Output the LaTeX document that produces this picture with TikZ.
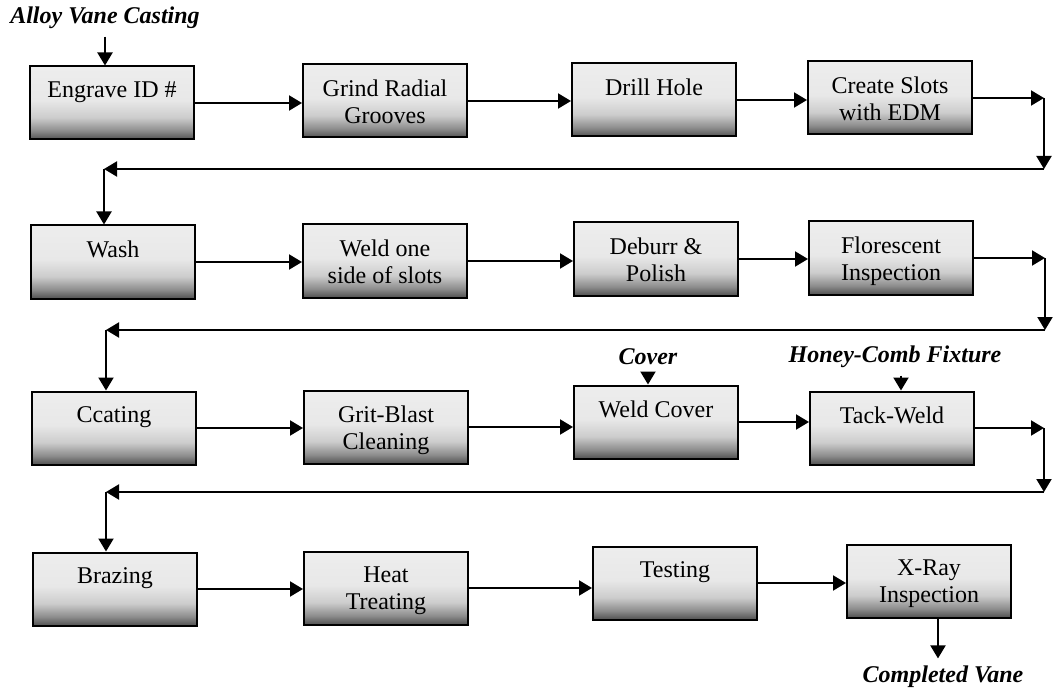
\documentclass[tikz,border=0pt]{standalone}
\usepackage{fontspec}
\setmainfont{Liberation Serif}
\usetikzlibrary{arrows.meta}

% dark at the bottom, pale at the top
\pgfdeclareverticalshading{castfade}{100bp}{color(0bp)=(black!68); color(25bp)=(black!68); color(31bp)=(black!45); color(40bp)=(black!20); color(52bp)=(black!9); color(75bp)=(black!7); color(100bp)=(black!7)}

\tikzset{
  stage/.style={draw, shade, shading=castfade, minimum width=82pt, minimum height=36.5pt, inner sep=0pt},
  stagetext/.style={anchor=north, inner sep=0pt, yshift=-7.5pt, align=center, font=\fontsize{12}{13.5}\selectfont},
  feed/.style={font=\fontsize{12}{14}\selectfont\bfseries\itshape},
}

\begin{document}
\begin{tikzpicture}[x=0.5pt, y=-0.5pt, line width=1pt, >={Triangle[length=6.5pt,width=7.5pt]}]
	\useasboundingbox (0,0) rectangle (1056,690);

	% row 1
	\node[stage] (engr) at (112,103) {};
	\node[stage] (grnd) at (385,101) {};
	\node[stage] (drll) at (654,100) {};
	\node[stage] (slot) at (890,98) {};
	\node[stagetext] (engr-t) at (engr.north) {Engrave ID \#};
	\node[stagetext] (grnd-t) at (grnd.north) {Grind Radial\\Grooves};
	\node[stagetext] (drll-t) at (drll.north) {Drill Hole};
	\node[stagetext] (slot-t) at (slot.north) {Create Slots\\with EDM};

	% row 2
	\node[stage] (wash) at (113,262) {};
	\node[stage] (weld) at (385,261) {};
	\node[stage] (debr) at (656,259) {};
	\node[stage] (flor) at (891,258) {};
	\node[stagetext] (wash-t) at (wash.north) {Wash};
	\node[stagetext] (weld-t) at (weld.north) {Weld one\\side of slots};
	\node[stagetext] (debr-t) at (debr.north) {Deburr \&\\Polish};
	\node[stagetext] (flor-t) at (flor.north) {Florescent\\Inspection};

	% row 3
	\node[stage] (coat) at (114,428) {};
	\node[stage] (grit) at (386,427) {};
	\node[stage] (wcov) at (656,422) {};
	\node[stage] (tack) at (892,428) {};
	\node[stagetext] (coat-t) at (coat.north) {Ccating};
	\node[stagetext] (grit-t) at (grit.north) {Grit-Blast\\Cleaning};
	\node[stagetext] (wcov-t) at (wcov.north) {Weld Cover};
	\node[stagetext] (tack-t) at (tack.north) {Tack-Weld};

	% row 4
	\node[stage] (braz) at (115,589) {};
	\node[stage] (heat) at (386,588) {};
	\node[stage] (test) at (675,583) {};
	\node[stage] (xray) at (929,581) {};
	\node[stagetext] (braz-t) at (braz.north) {Brazing};
	\node[stagetext] (heat-t) at (heat.north) {Heat\\Treating};
	\node[stagetext] (test-t) at (test.north) {Testing};
	\node[stagetext] (xray-t) at (xray.north) {X-Ray\\Inspection};

	% feeds in and out
	\node[feed] (alloy) at (105,18) {Alloy Vane Casting};
	\node[feed] (cover) at (648,357) {Cover};
	\node[feed] (hcomb) at (895,357) {Honey-Comb Fixture};
	\node[feed] (done) at (943,677) {Completed Vane};
	\draw [->] (alloy.south) -- (alloy.south |- engr.north);
	\draw [->] (cover.south) -- (cover.south |- wcov.north);
	\draw [->] ([xshift=3pt]hcomb.south) -- ([xshift=3pt]hcomb.south |- tack.north);
	\draw [->] ([xshift=4.5pt]xray.south) -- ([xshift=4.5pt]xray.south |- done.north);

	% turn-back corners
	\coordinate (rb1) at (1044,169);
	\coordinate (lb1) at (104,169);
	\coordinate (rb2) at (1045,330);
	\coordinate (lb2) at (106,330);
	\coordinate (rb3) at (1044,492);
	\coordinate (lb3) at (106,492);

	% straight runs
	\draw [->] (engr.east) -- (engr.east -| grnd.west);
	\draw [->] (grnd.east) -- (grnd.east -| drll.west);
	\draw [->] (drll.east) -- (drll.east -| slot.west);
	\draw [->] (wash.east) -- (wash.east -| weld.west);
	\draw [->] (weld.east) -- (weld.east -| debr.west);
	\draw [->] (debr.east) -- (debr.east -| flor.west);
	\draw [->] (coat.east) -- (coat.east -| grit.west);
	\draw [->] (grit.east) -- (grit.east -| wcov.west);
	\draw [->] (wcov.east) -- (wcov.east -| tack.west);
	\draw [->] (braz.east) -- (braz.east -| heat.west);
	\draw [->] (heat.east) -- (heat.east -| test.west);
	\draw [->] (test.east) -- (test.east -| xray.west);

	% row to row
	\draw [->] (slot.east) -- (slot.east -| rb1);
	\draw [->] (slot.east -| rb1) -- (rb1);
	\draw [->] (rb1) -- (lb1);
	\draw [->] (lb1) -- (lb1 |- wash.north);
	\draw [->] (flor.east) -- (flor.east -| rb2);
	\draw [->] (flor.east -| rb2) -- (rb2);
	\draw [->] (rb2) -- (lb2);
	\draw [->] (lb2) -- (lb2 |- coat.north);
	\draw [->] (tack.east) -- (tack.east -| rb3);
	\draw [->] (tack.east -| rb3) -- (rb3);
	\draw [->] (rb3) -- (lb3);
	\draw [->] (lb3) -- (lb3 |- braz.north);
\end{tikzpicture}
\end{document}
